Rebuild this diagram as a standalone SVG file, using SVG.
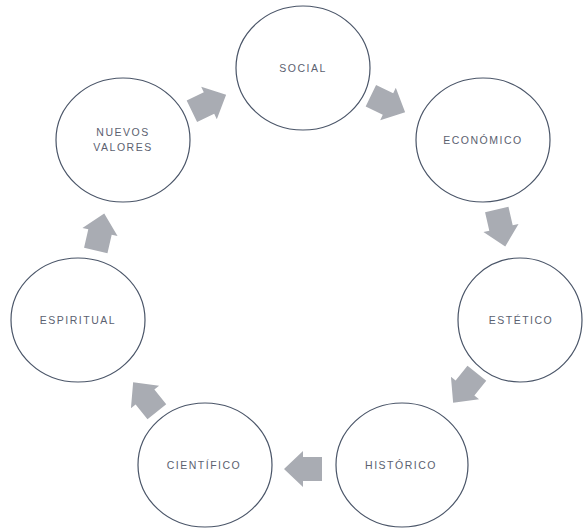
<svg xmlns="http://www.w3.org/2000/svg" width="583" height="528" viewBox="0 0 583 528">
  <defs>
    <style>
      .node ellipse { fill: #ffffff; stroke: #4a5568; stroke-width: 1.2; }
      .node text { font-family: "Liberation Sans", Arial, sans-serif; font-size: 10.5px; letter-spacing: 1.5px; fill: #5b6170; text-anchor: middle; }
      .arrow { fill: #a9acb3; }
    </style>
    <!-- block arrow pointing right, centred on the origin -->
    <polygon id="blk" points="-19,-12 0,-12 0,-18 19,0 0,18 0,12 -19,12"/>
  </defs>
  <rect width="583" height="528" fill="#ffffff"/>

  <g id="connectors">
    <use href="#blk" class="arrow" transform="translate(209,103) rotate(-25.7)"/>
    <use href="#blk" class="arrow" transform="translate(388,104) rotate(25.7)"/>
    <use href="#blk" class="arrow" transform="translate(501,228) rotate(77.1)"/>
    <use href="#blk" class="arrow" transform="translate(465,388) rotate(128.6)"/>
    <use href="#blk" class="arrow" transform="translate(303,469) rotate(180)"/>
    <use href="#blk" class="arrow" transform="translate(145,397) rotate(231.4)"/>
    <use href="#blk" class="arrow" transform="translate(100,232) rotate(282.9)"/>
  </g>

  <g id="social" class="node">
    <ellipse cx="303" cy="68" rx="67" ry="62"/>
    <text x="303" y="72">SOCIAL</text>
  </g>
  <g id="economico" class="node">
    <ellipse cx="483" cy="140" rx="67" ry="62"/>
    <text x="483" y="144">ECONÓMICO</text>
  </g>
  <g id="estetico" class="node">
    <ellipse cx="520" cy="320" rx="62" ry="62"/>
    <text x="521" y="324">ESTÉTICO</text>
  </g>
  <g id="historico" class="node">
    <ellipse cx="402" cy="465" rx="66" ry="62"/>
    <text x="401" y="469">HISTÓRICO</text>
  </g>
  <g id="cientifico" class="node">
    <ellipse cx="205" cy="465" rx="67" ry="62"/>
    <text x="204" y="469">CIENTÍFICO</text>
  </g>
  <g id="espiritual" class="node">
    <ellipse cx="78" cy="320" rx="67" ry="62"/>
    <text x="78" y="324">ESPIRITUAL</text>
  </g>
  <g id="nuevos-valores" class="node">
    <ellipse cx="123" cy="140" rx="67" ry="62"/>
    <text x="123" y="136">NUEVOS</text>
    <text x="123" y="151">VALORES</text>
  </g>
</svg>
